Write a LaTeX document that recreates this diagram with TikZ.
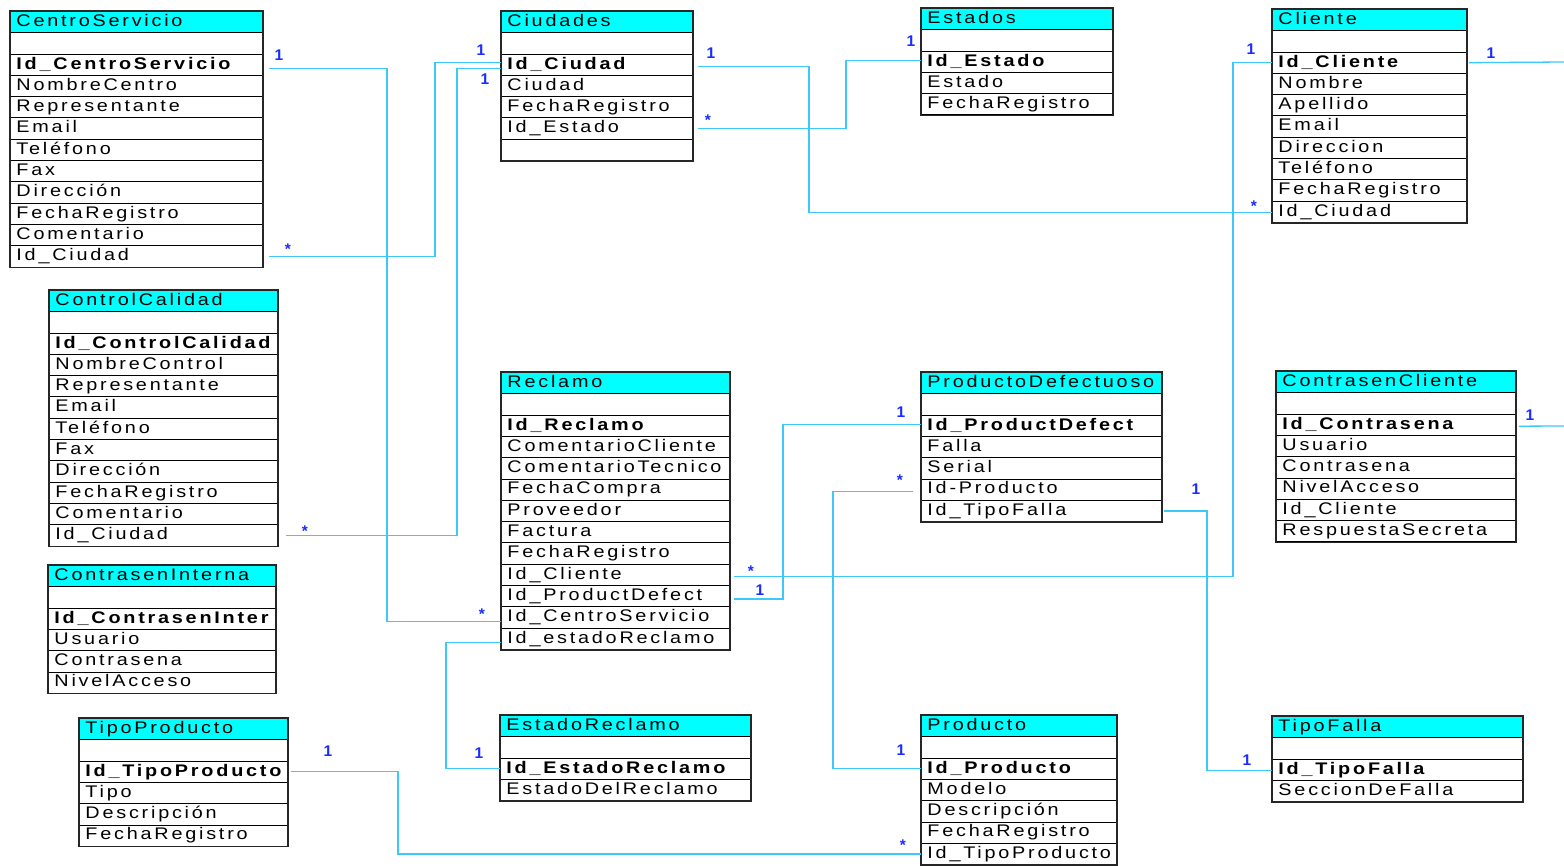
\documentclass[tikz,border=0pt]{standalone}
\usepackage{fontspec}
\setmainfont{Liberation Sans}
\newfontfamily\erdfont[LetterSpace=14]{Liberation Sans}
\usetikzlibrary{calc}
\definecolor{hdrcyan}{RGB}{0,255,255}
\definecolor{relblue}{RGB}{60,200,250}
\definecolor{cardblue}{RGB}{25,45,255}

% field text is set a little wide, like the screen font of the schema editor
\newcommand\erdtxt[1]{\scalebox{1.18}[1]{#1}}

\tikzset{
  cell/.style={draw=black, line width=0.9pt, anchor=north west, inner xsep=6pt,
    inner ysep=0pt, minimum height=21.3pt, text height=12.2pt, text depth=3.5pt,
    align=left, font=\erdfont\fontsize{16.8}{18}\selectfont},
  hdr/.style={cell, fill=hdrcyan},
  keycell/.style={font=\erdfont\bfseries\fontsize{16.8}{18}\selectfont},
  frame/.style={draw=black!85, line width=1.4pt},
  rel/.style={draw=relblue, line width=1.3pt},
  card/.style={text=cardblue, font=\bfseries\fontsize{15.5}{15.5}\selectfont, inner sep=0pt},
}

% \erdtable{name}{left}{top}{width}{title}{key field}{other fields}
\newcommand\erdtable[7]{%
  \pgfmathsetmacro\erdtw{#4-12}
  \node[hdr, text width=\erdtw pt] (#1-h) at (#2,#3) {\erdtxt{#5}};
  \node[cell, text width=\erdtw pt] (#1-0) at (#2,{#3+21.3}) {};
  \node[cell, keycell, text width=\erdtw pt] (#1-1) at (#2,{#3+2*21.3}) {\erdtxt{#6}};
  \xdef\erdlast{1}
  \foreach \f [count=\i from 2] in {#7} {
    \node[cell, text width=\erdtw pt] (#1-\i) at (#2,{#3+(\i+1)*21.3}) {\erdtxt{\f}};
    \xdef\erdlast{\i}
  }
  \draw[frame] (#1-h.north west) rectangle (#1-\erdlast.south east);
}

% \erdlink{from}{bend column}{to}: horizontal, vertical at the bend, horizontal
\newcommand\erdlink[3]{\draw[rel] (#1) -| (#2 |- #3) -- (#3);}

\begin{document}
\begin{tikzpicture}[x=1pt, y=-1pt]
\useasboundingbox[fill=white] (0,0) rectangle (1564,866);

% ---- tables ----
\erdtable{cs}{10}{11}{252}{CentroServicio}{Id\_CentroServicio}
  {NombreCentro, Representante, Email, Teléfono, Fax, Dirección, FechaRegistro, Comentario, Id\_Ciudad}
\erdtable{ci}{501}{11}{191}{Ciudades}{Id\_Ciudad}
  {Ciudad, FechaRegistro, Id\_Estado, {}}
\erdtable{es}{921}{8}{191}{Estados}{Id\_Estado}
  {Estado, FechaRegistro}
\erdtable{cl}{1272}{9}{194}{Cliente}{Id\_Cliente}
  {Nombre, Apellido, Email, Direccion, Teléfono, FechaRegistro, Id\_Ciudad}
\erdtable{cc}{49}{290}{228}{ControlCalidad}{Id\_ControlCalidad}
  {NombreControl, Representante, Email, Teléfono, Fax, Dirección, FechaRegistro, Comentario, Id\_Ciudad}
\erdtable{cin}{48}{565}{227}{ContrasenInterna}{Id\_ContrasenInter}
  {Usuario, Contrasena, NivelAcceso}
\erdtable{tp}{79}{718}{208}{TipoProducto}{Id\_TipoProducto}
  {Tipo, Descripción, FechaRegistro}
\erdtable{rc}{501}{372}{228}{Reclamo}{Id\_Reclamo}
  {ComentarioCliente, ComentarioTecnico, FechaCompra, Proveedor, Factura, FechaRegistro, Id\_Cliente, Id\_ProductDefect, Id\_CentroServicio, Id\_estadoReclamo}
\erdtable{er}{500}{715}{250}{EstadoReclamo}{Id\_EstadoReclamo}
  {EstadoDelReclamo}
\erdtable{pd}{921}{372}{240}{ProductoDefectuoso}{Id\_ProductDefect}
  {Falla, Serial, Id-Producto, Id\_TipoFalla}
\erdtable{pr}{921}{715}{195}{Producto}{Id\_Producto}
  {Modelo, Descripción, FechaRegistro, Id\_TipoProducto}
\erdtable{ccl}{1276}{371}{239}{ContrasenCliente}{Id\_Contrasena}
  {Usuario, Contrasena, NivelAcceso, Id\_Cliente, RespuestaSecreta}
\erdtable{tf}{1272}{716}{250}{TipoFalla}{Id\_TipoFalla}
  {SeccionDeFalla}

% ---- bend columns of the relations ----
\coordinate (b1) at (387,0);
\coordinate (b2) at (435,0);
\coordinate (b3) at (457,0);
\coordinate (b4) at (809,0);
\coordinate (b5) at (846,0);
\coordinate (b6) at (1233,0);
\coordinate (b9) at (783,0);
\coordinate (b10) at (833,0);
\coordinate (b11) at (1207,0);
\coordinate (b12) at (446,0);
\coordinate (b13) at (398,0);

% ---- end points of the relations ----
\coordinate (s1) at ([xshift=6pt,yshift=-4pt]cs-1.east);
\coordinate (t1) at ([yshift=-4pt]rc-10.west);
\coordinate (s2) at ([xshift=6pt]cs-10.east);
\coordinate (t2) at ([yshift=2pt]ci-1.west);
\coordinate (s3) at ([xshift=8pt]cc-10.east);
\coordinate (t3) at ([yshift=-4pt]ci-1.west);
\coordinate (s4) at ([xshift=5pt,yshift=-2pt]ci-1.east);
\coordinate (t4) at ([yshift=-1pt]cl-8.west);
\coordinate (s5) at ([xshift=5pt]ci-4.east);
\coordinate (t5) at ([yshift=1pt]es-1.west);
\coordinate (s6) at ([xshift=4pt,yshift=-2pt]rc-8.east);
\coordinate (s7) at ([xshift=2pt]cl-1.east);
\coordinate (edge7) at (1564,62);
\coordinate (s8) at ([xshift=3pt,yshift=-1.5pt]ccl-1.east);
\coordinate (edge8) at (1564,426);
\coordinate (s9) at ([xshift=4pt,yshift=-3pt]rc-9.east);
\coordinate (t9) at ([yshift=1pt]pd-1.west);
\coordinate (s10) at ([xshift=-8pt,yshift=-2pt]pd-4.west);
\coordinate (s11) at ([xshift=2pt]pd-5.east);
\coordinate (t11) at ([yshift=-1pt]tf-1.west);
\coordinate (s12) at ([yshift=-4pt]rc-11.west);
\coordinate (s13) at ([xshift=3pt]tp-1.east);

% ---- relations ----
\erdlink{s1}{b1}{t1}
\erdlink{s2}{b2}{t2}
\erdlink{s3}{b3}{t3}
\erdlink{s4}{b4}{t4}
\erdlink{s5}{b5}{t5}
\erdlink{s6}{b6}{cl-1.west}
\draw[rel] (s7) -- (edge7);
\draw[rel] (s8) -- (edge8);
\erdlink{s9}{b9}{t9}
\erdlink{s10}{b10}{pr-1.west}
\erdlink{s11}{b11}{t11}
\erdlink{s12}{b12}{er-1.west}
\erdlink{s13}{b13}{pr-5.west}

% ---- cardinalities ----
\node[card] (m1a) at (279,55) {1};
\node[card] (m1b) at (482,614) {*};
\node[card] (m2a) at (288,249) {*};
\node[card] (m2b) at (481,50) {1};
\node[card] (m3a) at (305,531) {*};
\node[card] (m3b) at (485,79) {1};
\node[card] (m4a) at (711,53) {1};
\node[card] (m4b) at (1254,206) {*};
\node[card] (m5a) at (708,120) {*};
\node[card] (m5b) at (911,41) {1};
\node[card] (m6a) at (1251,49) {1};
\node[card] (m6b) at (751,571) {*};
\node[card] (m7) at (1491,53) {1};
\node[card] (m8) at (1530,415) {1};
\node[card] (m9a) at (760,590) {1};
\node[card] (m9b) at (901,412) {1};
\node[card] (m10a) at (900,480) {*};
\node[card] (m10b) at (901,750) {1};
\node[card] (m11a) at (1196,489) {1};
\node[card] (m11b) at (1247,760) {1};
\node[card] (m12) at (479,753) {1};
\node[card] (m13a) at (328,751) {1};
\node[card] (m13b) at (903,845) {*};
\end{tikzpicture}
\end{document}
